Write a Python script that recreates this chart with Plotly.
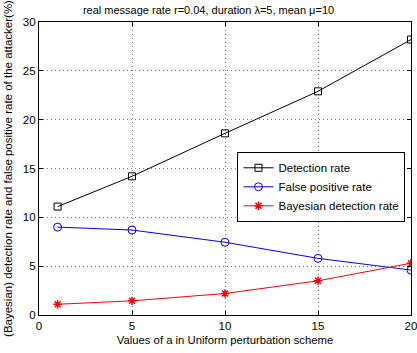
import plotly.graph_objects as go

a_values = [1, 5, 10, 15, 20]
detection_rate = [11.1, 14.2, 18.6, 22.9, 28.2]
false_positive_rate = [9.0, 8.7, 7.45, 5.8, 4.6]
bayesian_detection_rate = [1.1, 1.45, 2.2, 3.5, 5.3]

series_names = ["Detection rate", "False positive rate", "Bayesian detection rate"]
title_text = "real message rate r=0.04, duration \u03bb=5, mean \u03bc=10"
x_title = "Values of a in Uniform perturbation scheme"
y_title = "(Bayesian) detection rate and false positive rate of the attacker(%)"

font_family = "Liberation Sans, Arial, sans-serif"

fig = go.Figure()
fig.add_trace(go.Scatter(
    x=a_values, y=detection_rate, name=series_names[0], mode="lines+markers",
    line=dict(color="black", width=1),
    marker=dict(symbol="square-open", size=7, color="black", line=dict(width=1)),
))
fig.add_trace(go.Scatter(
    x=a_values, y=false_positive_rate, name=series_names[1], mode="lines+markers",
    line=dict(color="blue", width=1),
    marker=dict(symbol="circle-open", size=8, color="blue", line=dict(width=1)),
))
fig.add_trace(go.Scatter(
    x=a_values, y=bayesian_detection_rate, name=series_names[2], mode="lines+markers",
    line=dict(color="red", width=1),
    marker=dict(symbol="asterisk-open", size=7, color="red", line=dict(width=1.5, color="red")),
))

axis_common = dict(
    showline=True, linecolor="black", linewidth=1.2, mirror="allticks",
    ticks="inside", ticklen=4, tickcolor="black",
    showgrid=True, gridcolor="#777777", griddash="1px,3px", gridwidth=1,
    zeroline=False, tickfont=dict(size=11.5, color="black", family=font_family),
    ticklabeloverflow="allow", automargin=False,
)

fig.update_layout(
    width=417, height=353,
    margin=dict(l=39, r=6, t=22, b=38),
    paper_bgcolor="white", plot_bgcolor="white",
    font=dict(family=font_family, size=11, color="black"),
    title=dict(text=title_text, x=0.5, xanchor="center", y=0.972, yanchor="middle",
               font=dict(size=11, color="black")),
    xaxis=dict(range=[0, 20], tickvals=[0, 5, 10, 15, 20],
               title=dict(text=x_title, font=dict(size=11.3), standoff=5), **axis_common),
    yaxis=dict(range=[0, 30], tickvals=[0, 5, 10, 15, 20, 25, 30],
               title=dict(text=y_title, font=dict(size=11.5), standoff=7), **axis_common),
    legend=dict(x=0.533, y=0.556, xanchor="left", yanchor="top",
                bgcolor="white", bordercolor="black", borderwidth=1.2,
                font=dict(size=11.5, color="black"), tracegroupgap=0,
                itemwidth=30),
    showlegend=True,
)

fig.write_html("out.html")
